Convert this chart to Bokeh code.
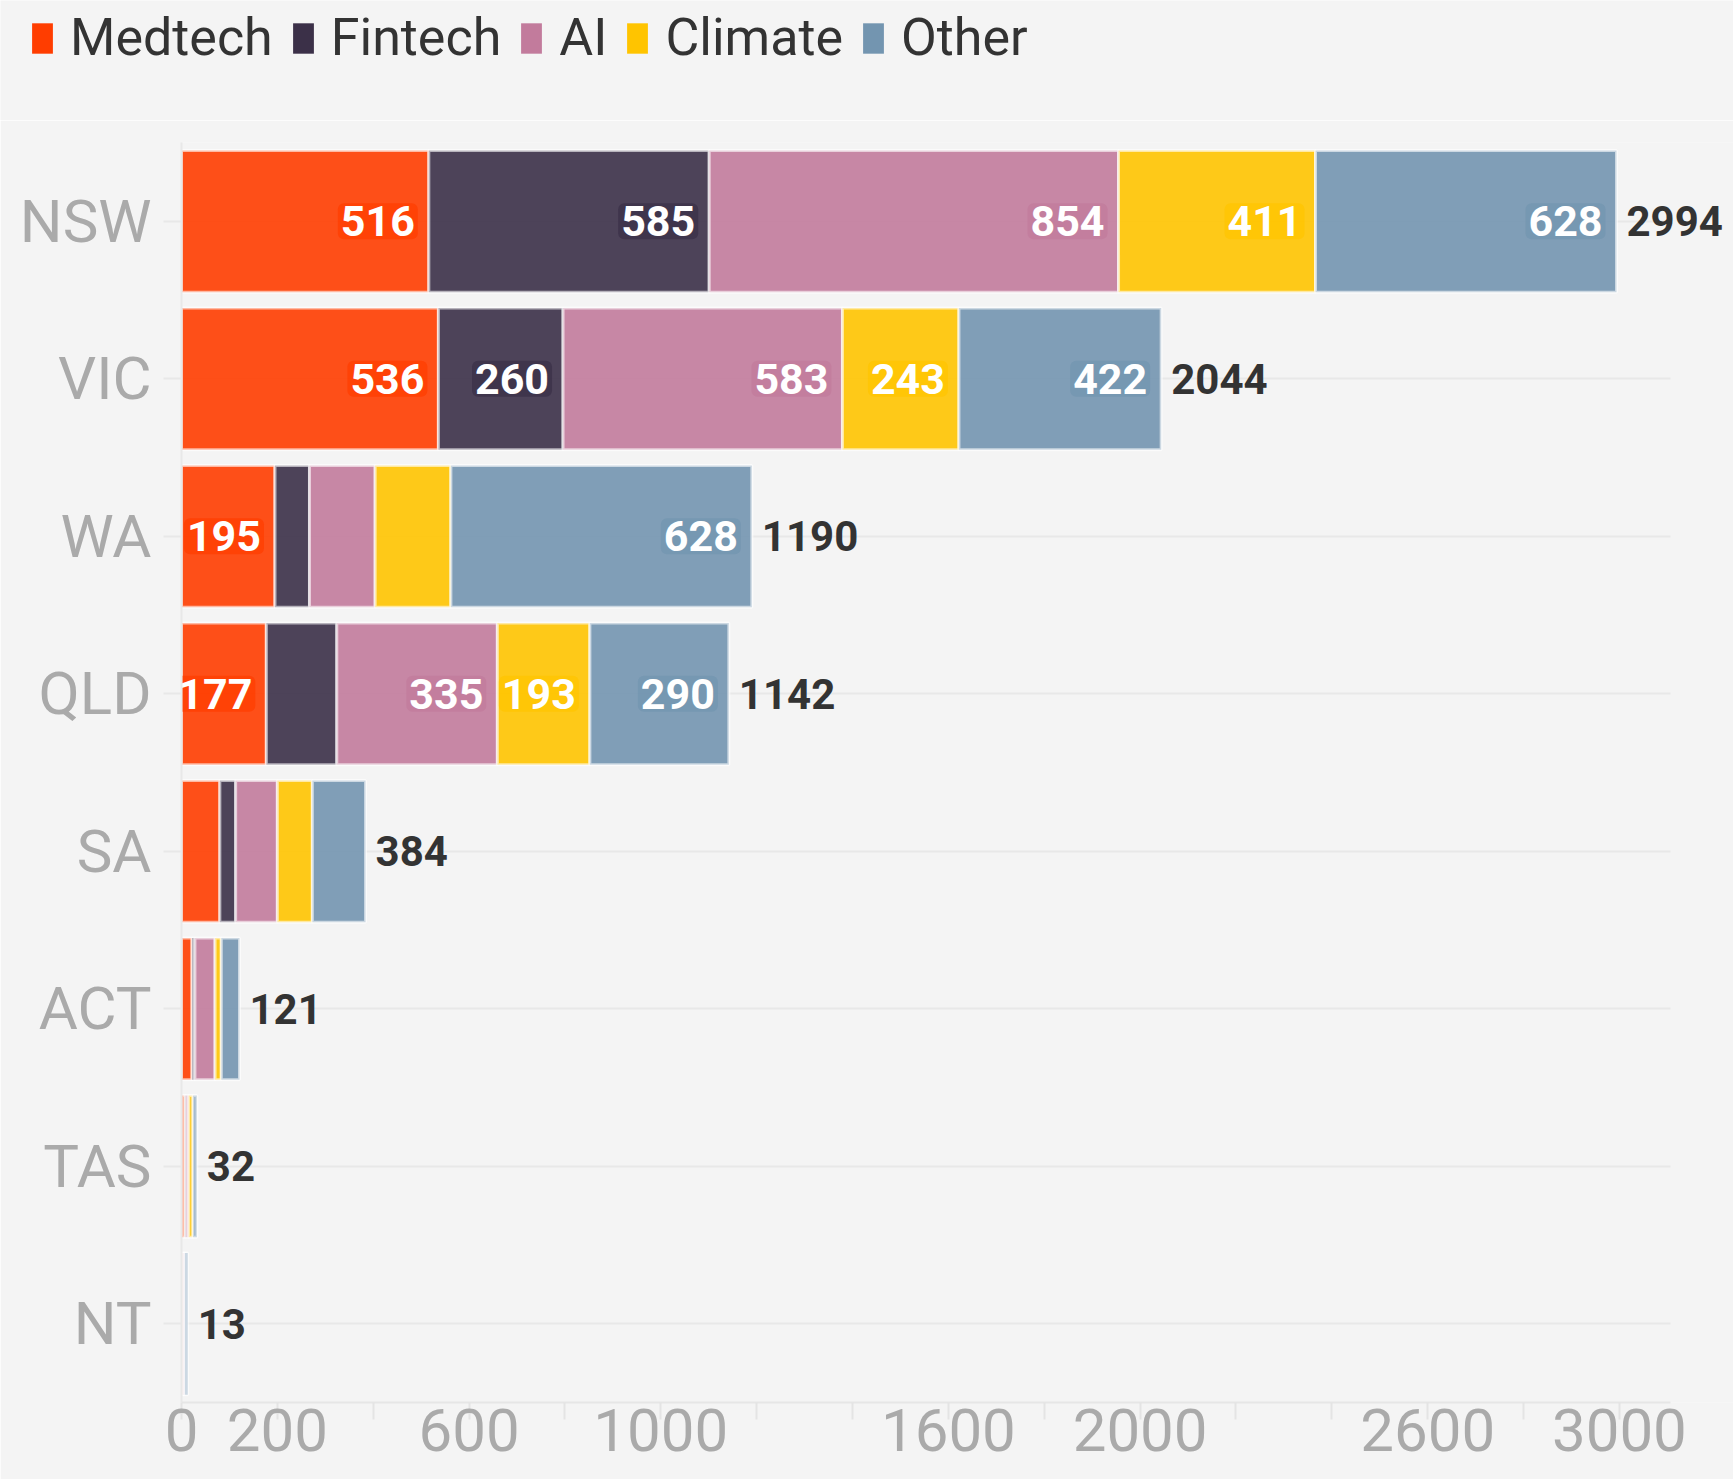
from bokeh.plotting import figure
from bokeh.layouts import column
from bokeh.models import (ColumnDataSource, FactorRange, Range1d, FixedTicker,
                          Legend, LegendItem, LabelSet)
from bokeh.embed import file_html
from bokeh.resources import INLINE
from bokeh.core.properties import value

# ---------------- data ----------------
states = ["NSW", "VIC", "WA", "QLD", "SA", "ACT", "TAS", "NT"]
sectors = ["Medtech", "Fintech", "AI", "Climate", "Other"]
medtech = [516, 536, 195, 177, 80, 22, 7, 3]
fintech = [585, 260, 72, 147, 33, 6, 2, 1]
ai = [854, 583, 137, 335, 87, 42, 6, 3]
climate = [411, 243, 158, 193, 73, 13, 9, 0]
other = [628, 422, 628, 290, 111, 38, 8, 6]
totals = [2994, 2044, 1190, 1142, 384, 121, 32, 13]
x_ticks = list(range(0, 3001, 200))
x_tick_labels_shown = [0, 200, 600, 1000, 1600, 2000, 2600, 3000]

colors = ["#FF3D00", "#3B3048", "#C27B9C", "#FFC400", "#7395B0"]
FONT = "Roboto"
BG = "#f4f4f4"
W = 1733

series = [medtech, fintech, ai, climate, other]
src = ColumnDataSource(dict(state=states, Medtech=medtech, Fintech=fintech,
                            AI=ai, Climate=climate, Other=other))

# segment labels (only for wide enough segments)
lx, ly, lt, lc = [], [], [], []
for i, st in enumerate(states):
    cum = 0
    for k, ser in enumerate(series):
        v = ser[i]
        cum += v
        if v >= 170:
            lx.append(cum)
            ly.append(st)
            lt.append(str(v))
            lc.append(colors[k])
lbl_src = ColumnDataSource(dict(x=lx, y=ly, text=lt, halo=lc))
tot_src = ColumnDataSource(dict(x=totals, y=states, text=[str(t) for t in totals]))

# ---------------- legend strip ----------------
H1 = 120
pl = figure(width=W, height=H1,
            y_range=FactorRange(factors=states[::-1]), x_range=Range1d(-20, -10),
            output_backend="svg", toolbar_location=None,
            x_axis_location=None, y_axis_location=None,
            min_border=0, min_border_left=0, min_border_right=0,
            min_border_top=0, min_border_bottom=0,
            background_fill_color=BG, border_fill_color=BG,
            outline_line_color=None)
pl.frame_align = False
pl.grid.visible = False
lrs = pl.hbar_stack(sectors, y="state", height=0.9, source=src,
                    fill_color=colors, fill_alpha=1.0, line_color=None)
legend = Legend(items=[LegendItem(label=s, renderers=[r]) for s, r in zip(sectors, lrs)],
                orientation="horizontal", location=(29, 52),
                glyph_width=26, glyph_height=38, label_standoff=15, spacing=17,
                padding=0, margin=0, border_line_color=None,
                background_fill_alpha=0,
                label_text_font=FONT, label_text_font_size="52px",
                label_text_color="#333333")
pl.add_layout(legend, "center")

# ---------------- main chart ----------------
p = figure(width=W, height=1479 - H1,
           y_range=FactorRange(factors=states[::-1], range_padding=0),
           x_range=Range1d(0, (W - 181) / 0.4793),
           output_backend="svg", toolbar_location=None,
           min_border_left=181, min_border_right=0,
           min_border_top=22, min_border_bottom=77,
           background_fill_color=BG, border_fill_color=BG,
           outline_line_color=None)
p.frame_align = False

rs = p.hbar_stack(sectors, y="state", height=0.9, source=src,
                  fill_color=colors, fill_alpha=0.9,
                  line_color="white", line_alpha=0.6, line_width=3)

p.text(x="x", y="y", text="text", source=lbl_src,
       text_align="right", text_baseline="middle", x_offset=-11,
       text_color="white", text_font=value(FONT), text_font_style="bold",
       text_font_size="43px",
       background_fill_color="halo", background_fill_alpha=0.75,
       padding=3, border_radius=6)

tot = LabelSet(x="x", y="y", text="text", source=tot_src,
               x_offset=10, text_baseline="middle", text_align="left",
               text_color="#333333", text_font=value(FONT),
               text_font_style="bold", text_font_size="42px")
p.add_layout(tot)

# axes
p.xaxis.ticker = FixedTicker(ticks=x_ticks, minor_ticks=[])
p.xaxis.bounds = (0, 3107)
p.xaxis.major_label_overrides = {t: (str(t) if t in x_tick_labels_shown else "") for t in x_ticks}
p.xaxis.major_tick_out = 17
p.xaxis.major_tick_in = 0
p.xaxis.major_tick_line_color = "#e4e4e4"
p.xaxis.major_tick_line_width = 2
p.xaxis.axis_line_color = "#e6e6e6"
p.xaxis.axis_line_width = 2
p.xaxis.major_label_text_font = FONT
p.xaxis.major_label_text_font_size = "60px"
p.xaxis.major_label_text_color = "#aaaaaa"
p.xaxis.major_label_standoff = -11

p.yaxis.major_tick_out = 18
p.yaxis.major_tick_in = 0
p.yaxis.major_tick_line_color = "#e8e8e8"
p.yaxis.major_tick_line_width = 2
p.yaxis.axis_line_color = "#e8e8e8"
p.yaxis.axis_line_width = 2
p.yaxis.major_label_text_font = FONT
p.yaxis.major_label_text_font_size = "60px"
p.yaxis.major_label_text_color = "#aaaaaa"
p.yaxis.major_label_standoff = 12

p.xgrid.visible = False
p.ygrid.grid_line_color = "#e8e8e8"
p.ygrid.grid_line_width = 2
p.ygrid.cross_bounds = (0, 3107)

layout = column(pl, p, spacing=0)
open("out.html", "w").write(file_html(layout, INLINE))
